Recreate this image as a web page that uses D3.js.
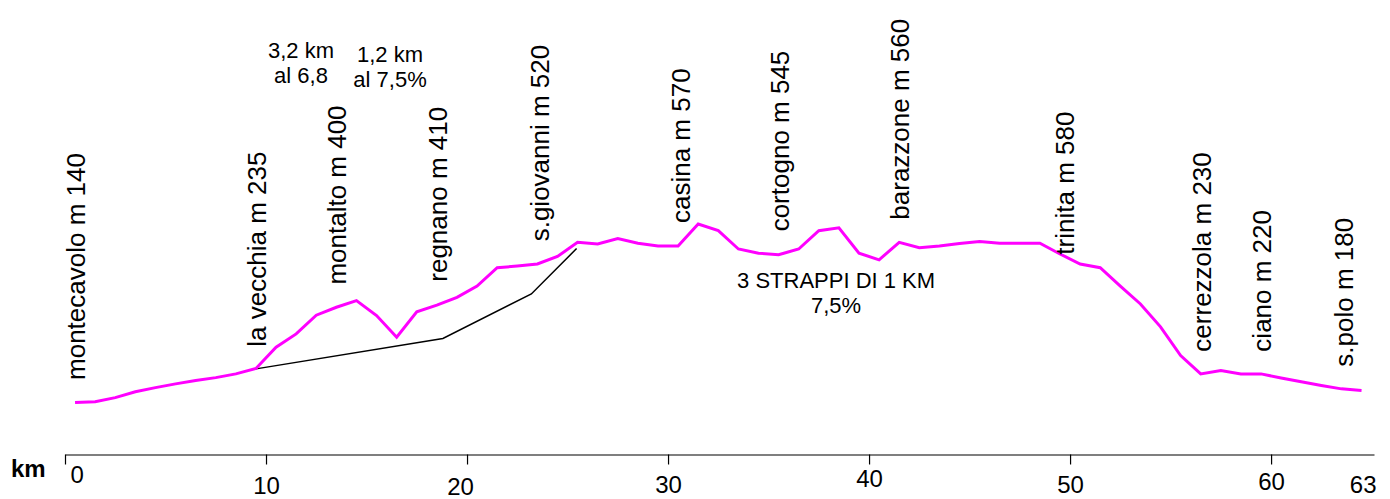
<!DOCTYPE html>
<html><head><meta charset="utf-8">
<script src="https://cdn.jsdelivr.net/npm/d3@7/dist/d3.min.js"></script>
<style>
body{margin:0;background:#fff}
svg{display:block}
text{font-family:"Liberation Sans",Arial,sans-serif;fill:#000}
</style>
</head><body>
<svg id="c" width="1390" height="499"></svg>
<script>
// ---- data ----
const profileKm = [0.5,1.5,2.5,3.5,4.5,5.5,6.5,7.5,8.5,9.5,
  10.5,11.5,12.5,13.5,14.5,15.5,16.5,17.5,18.5,19.5,
  20.5,21.5,22.5,23.5,24.5,25.5,26.5,27.5,28.5,29.5,
  30.5,31.5,32.5,33.5,34.5,35.5,36.5,37.5,38.5,39.5,
  40.5,41.5,42.5,43.5,44.5,45.5,46.5,47.5,48.5,49.5,
  50.5,51.5,52.5,53.5,54.5,55.5,56.5,57.5,58.5,59.5,
  60.5,61.5,62.5,63.5,64.5];
const profileAlt = [141,143,153,167,177,186,194,201,210,223,
  274,306,351,370,386,350,298,359,375,394,
  421,465,469,474,492,526,522,535,524,517,
  517,570,554,510,500,496,510,554,561,500,
  484,526,513,517,523,528,524,524,524,498,
  474,465,421,378,323,254,210,218,210,210,
  200,191,182,174,170];
const directKm = [9.5, 18.8, 23.2, 25.45];
const directAlt = [222, 295, 402, 511];
const placeNames = ["montecavolo m 140","la vecchia m 235","montalto m 400","regnano m 410",
  "s.giovanni m 520","casina m 570","cortogno m 545","barazzone m 560",
  "trinita m 580","cerrezzola m 230","ciano m 220","s.polo m 180"];
const placeKm  = [1.0, 10.0, 14.0, 19.0, 24.1, 31.1, 36.0, 42.0, 50.2, 57.0, 60.0, 64.1];
const placeAlt = [199, 279, 428, 435, 532, 576, 556, 584, 500, 267, 267, 231];
const noteLines = ["3,2 km","al 6,8","1,2 km","al 7,5%","3 STRAPPI DI 1 KM","7,5%"];
const noteKm  = [11.74, 11.74, 16.17, 16.17, 38.36, 38.36];
const noteAlt = [968, 909, 960, 900, 416, 356];
const tickValues = [0,10,20,30,40,50,60];
const endLabel = "63";
const endKm = 64.58;
const axisTitle = "km";

// ---- layout ----
const axisY = 454.5;
const tickLabelBase = {0:28.2, 10:39.5, 20:40.5, 30:38.5, 40:32.5, 50:38.5, 60:35, 63:38.5};
const tickLabelShift = {0:5, 20:-7};

const svg = d3.select("#c");
const x = d3.scaleLinear().domain([0, 65.12]).range([65, 1374]);
const y = d3.scaleLinear().domain([0, 1000]).range([461.3, 45]);

// axis
const axis = d3.axisBottom(x).tickValues(tickValues).tickSize(10).tickSizeOuter(0).tickPadding(0);
const gAxis = svg.append("g").attr("transform", `translate(0,${axisY})`).call(axis);
gAxis.select(".domain").attr("stroke", "#000").attr("stroke-width", 1.2);
gAxis.selectAll(".tick line").attr("stroke", "#000").attr("stroke-width", 1.2);
gAxis.selectAll(".tick text")
  .attr("font-size", 24).attr("fill", "#000")
  .attr("font-family", '"Liberation Sans",Arial,sans-serif')
  .attr("dy", null)
  .attr("y", d => tickLabelBase[d])
  .attr("x", d => tickLabelShift[d] || 0)
  .attr("text-anchor", d => d === 0 ? "start" : "middle");
gAxis.append("text")
  .attr("x", x(endKm)).attr("y", tickLabelBase[63])
  .attr("font-size", 24).attr("text-anchor", "middle").attr("fill", "#000")
  .attr("font-family", '"Liberation Sans",Arial,sans-serif')
  .text(endLabel);
svg.append("text").attr("x", 11).attr("y", 477.3)
  .attr("font-size", 24).attr("font-weight", "bold").text(axisTitle);

// direct (black) line
const line = d3.line().x(d => x(d[0])).y(d => y(d[1]));
svg.append("path").datum(d3.zip(directKm, directAlt))
  .attr("d", line).attr("fill", "none").attr("stroke", "#000").attr("stroke-width", 1.5);

// profile
svg.append("path").datum(d3.zip(profileKm, profileAlt))
  .attr("d", line).attr("fill", "none").attr("stroke", "#ff00ff")
  .attr("stroke-width", 3).attr("stroke-linejoin", "miter");

// place labels (vertical)
svg.selectAll("text.place").data(d3.zip(placeNames, placeKm, placeAlt)).join("text")
  .attr("class", "place")
  .attr("transform", d => `translate(${x(d[1])},${y(d[2]) + 1.5}) rotate(-90)`)
  .attr("font-size", 26)
  .text(d => d[0]);

// notes
svg.selectAll("text.note").data(d3.zip(noteLines, noteKm, noteAlt)).join("text")
  .attr("class", "note")
  .attr("x", d => x(d[1])).attr("y", d => y(d[2]))
  .attr("font-size", 22).attr("text-anchor", "middle")
  .text(d => d[0]);
</script>
</body></html>
